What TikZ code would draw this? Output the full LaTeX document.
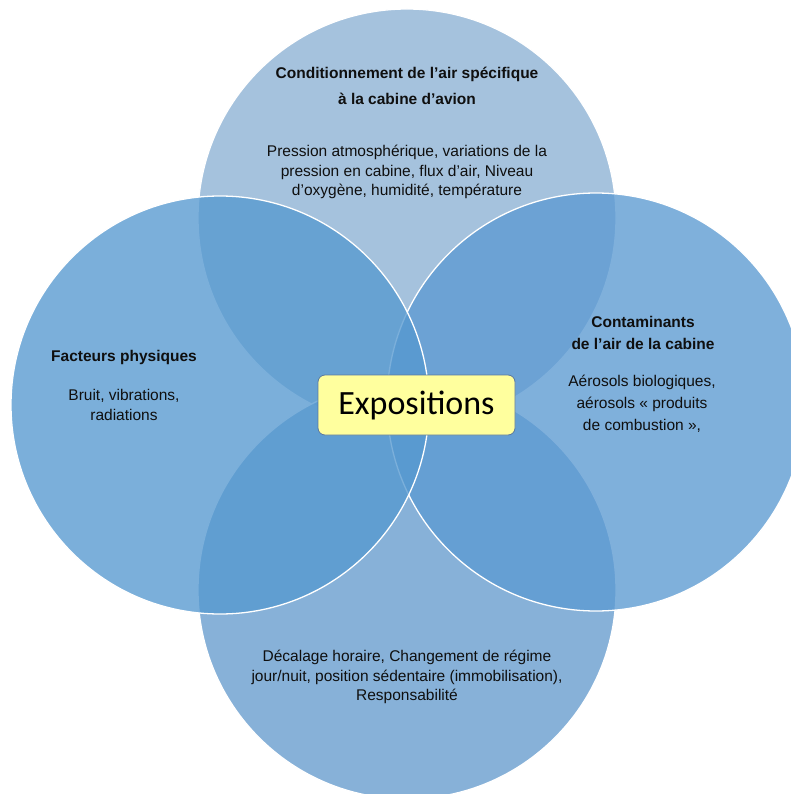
\documentclass[tikz,border=0pt]{standalone}
\usepackage{fontspec}
\setmainfont{Liberation Sans}
\newfontfamily\boxfont{Carlito}
\definecolor{topc}{RGB}{165,194,221}
\definecolor{leftc}{RGB}{86,153,208}
\definecolor{rightc}{RGB}{92,154,210}
\definecolor{botc}{RGB}{102,156,206}
\definecolor{boxfill}{RGB}{255,255,158}
\definecolor{boxline}{RGB}{90,120,160}
\definecolor{txt}{RGB}{15,15,15}
\tikzset{
  venn/.style={circle, minimum size=418pt, inner sep=0pt, draw=white, line width=1.3pt},
  vtext/.style={align=center, text=txt, font=\fontsize{15.5}{19.5}\selectfont, inner sep=0pt},
  vtitle/.style={align=center, text=txt, font=\fontsize{15.5}{22}\selectfont\bfseries, inner sep=0pt},
  centerbox/.style={draw=boxline, line width=0.8pt, fill=boxfill, rounded corners=7pt,
    minimum width=197pt, minimum height=60pt, inner sep=0pt, font=\boxfont\fontsize{34}{34}\selectfont}
}
\begin{document}
\begin{tikzpicture}[x=1pt,y=-1pt]
\useasboundingbox (0,0) rectangle (790,794);
\fill[white] (0,0) rectangle (790,794);
\node[venn, fill=topc] (ctop) at (407,218) {};
\node[venn, fill=botc, fill opacity=0.78] (cbot) at (407,590) {};
\node[venn, fill=rightc, fill opacity=0.78] (cright) at (596,402) {};
\node[venn, fill=leftc, fill opacity=0.78] (cleft) at (220,405) {};
% texts
\node[vtitle] (ttop) at (407,86) {Conditionnement de l’air spécifique\\[4pt] à la cabine d’avion};
\node[vtext] (btop) at (407,172) {Pression atmosphérique, variations de la\\ pression en cabine, flux d’air, Niveau\\ d’oxygène, humidité, température};
\node[vtitle] (tleft) at (124,357) {Facteurs physiques};
\node[vtext] (bleft) at (124,405) {Bruit, vibrations,\\ radiations};
\node[vtitle] (tright) at (643,333) {Contaminants\\ de l’air de la cabine};
\node[vtext, font=\fontsize{15.5}{22}\selectfont] (bright) at (642,404) {Aérosols biologiques,\\ aérosols « produits\\ de combustion »,};
\node[vtext] (bbot) at (407,677) {Décalage horaire, Changement de régime\\ jour/nuit, position sédentaire (immobilisation),\\ Responsabilité};
\node[centerbox] (expo) at (416.5,405) {Expositions};
\end{tikzpicture}
\end{document}
